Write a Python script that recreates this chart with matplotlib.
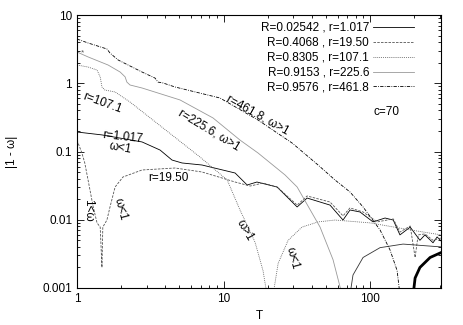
import matplotlib
matplotlib.use("Agg")
import matplotlib.pyplot as plt

plt.rcParams['font.family'] = ['Liberation Sans', 'DejaVu Sans']

# r=461.8 (R=0.9576)
t_461_hi = [1.0, 1.19, 1.60, 1.68, 1.91, 2.78, 3.41, 3.57, 3.86, 4.67, 9.46, 17.2, 29.4, 44.2, 57.7, 73.0, 89.6, 117, 137, 153, 160]
y_461_hi = [4.45, 3.89, 3.18, 2.77, 2.19, 1.46, 1.19, 1.04, 1.01, 0.881, 0.608, 0.289, 0.133, 0.0634, 0.0382, 0.0255, 0.0154, 0.0071, 0.0036, 0.0018, 0.0008]
t_461_lo = [197, 203, 219, 257, 305]
y_461_lo = [0.0008, 0.0014, 0.0020, 0.0028, 0.0033]

# r=225.6 (R=0.9153)
t_225_hi = [1.0, 1.19, 1.63, 1.97, 2.13, 2.19, 2.30, 2.78, 5.05, 8.48, 12.96, 17.2, 26.3, 31.8, 45.6, 55.9, 64.4]
y_225_hi = [2.87, 2.43, 1.85, 1.46, 1.24, 1.04, 0.943, 0.852, 0.569, 0.310, 0.147, 0.0951, 0.0453, 0.0302, 0.0078, 0.0026, 0.0008]
t_225_lo = [73.0, 76.5, 89.6, 117, 168, 305]
y_225_lo = [0.0008, 0.00155, 0.0028, 0.0039, 0.0044, 0.0040]

# r=107.1 (R=0.8305)
t_107_hi = [1.0, 1.19, 1.37, 1.44, 1.48, 1.55, 1.82, 2.30, 6.91, 10.6, 12.96, 16.4, 18.6, 19.8]
y_107_hi = [1.85, 1.73, 1.56, 1.24, 0.881, 0.796, 0.745, 0.531, 0.083, 0.0382, 0.0139, 0.0047, 0.0018, 0.0008]
t_107_lo = [21.8, 23.6, 27.6, 34.3, 44.2, 57.7, 100, 188, 305]
y_107_lo = [0.0008, 0.0023, 0.0050, 0.0078, 0.0093, 0.0099, 0.0090, 0.0071, 0.0060]

# r=19.50 (R=0.4068)
t_19 = [1.0, 1.08, 1.13, 1.19, 1.29, 1.37, 1.44, 1.48, 1.50, 1.60, 1.68, 1.82, 2.06, 2.78, 4.67, 7.13, 9.77, 12.0, 15.2, 18.6, 23.2,
        31.8, 37.2, 53.3, 65.4, 73.0, 89.6, 112, 144, 160, 188, 203, 213, 237, 269, 305]
y_19 = [0.147, 0.0951, 0.0679, 0.0382, 0.0154, 0.0090, 0.0078, 0.0020, 0.0078, 0.0099, 0.0154, 0.0302, 0.0423, 0.0536, 0.0573, 0.0501, 0.0409, 0.0357, 0.0312, 0.0345, 0.0302,
        0.0164, 0.0223, 0.0182, 0.0114, 0.0149, 0.0130, 0.0093, 0.0103, 0.0066, 0.0081, 0.0028, 0.0060, 0.0062, 0.0050, 0.0054]

# r=1.017 (R=0.02542)
t_1 = [1.0, 1.48, 2.78, 3.69, 4.45, 5.21, 7.13, 12.0, 14.5, 16.9, 23.2, 31.8, 37.2, 53.3, 65.4, 73.0, 85.4, 104.8, 126.6, 144,
       160, 188, 219, 237, 269, 287, 305]
y_1 = [0.193, 0.175, 0.138, 0.105, 0.075, 0.0679, 0.0634, 0.0484, 0.0323, 0.0357, 0.0302, 0.0154, 0.0208, 0.0164, 0.0099, 0.0139, 0.0130, 0.0093, 0.0106, 0.0099,
       0.0060, 0.0078, 0.0050, 0.0060, 0.0046, 0.0056, 0.0049]

legend_labels = ['R=0.02542 , r=1.017', 'R=0.4068 , r=19.50', 'R=0.8305 , r=107.1',
                 'R=0.9153 , r=225.6', 'R=0.9576 , r=461.8']

fig = plt.figure(figsize=(4.63, 3.25), dpi=100)
ax = fig.add_axes([77/463, 1-288/325, 364/463, 273/325])

lw = 0.6
l1, = ax.plot(t_1, y_1, color='black', lw=lw, ls='-')
l2, = ax.plot(t_19, y_19, color='#555555', lw=lw, ls=(0, (3, 1.5)))
l3, = ax.plot(t_107_hi, y_107_hi, color='#555555', lw=lw, ls=(0, (1, 1.3)))
ax.plot(t_107_lo, y_107_lo, color='#555555', lw=lw, ls=(0, (1, 1.3)))
l4, = ax.plot(t_225_hi, y_225_hi, color='#999999', lw=lw, ls='-')
ax.plot(t_225_lo, y_225_lo, color='#333333', lw=lw, ls='-')
l5, = ax.plot(t_461_hi, y_461_hi, color='black', lw=lw, ls=(0, (4, 1.5, 1, 1.5)))
ax.plot(t_461_lo, y_461_lo, color='black', lw=2.0, ls='-')

ax.set_xscale('log')
ax.set_yscale('log')
ax.set_xlim(1, 305)
ax.set_ylim(0.001, 10)
ax.set_xticks([1, 10, 100])
ax.set_xticklabels(['1', '10', '100'])
ax.set_yticks([0.001, 0.01, 0.1, 1, 10])
ax.set_yticklabels(['0.001', '0.01', '0.1', '1', '10'])
ax.tick_params(which='both', direction='in', top=True, right=True, labelsize=8.5, width=0.6)
ax.tick_params(which='major', length=5)
ax.tick_params(which='minor', length=2.5)
for s in ax.spines.values():
    s.set_linewidth(0.8)
ax.set_xlabel('T', fontsize=8.5)
ax.set_ylabel('|1 - ω|', fontsize=8.5)
ax.yaxis.set_label_coords(-0.162, 0.5)

ax.legend([l1, l2, l3, l4, l5], legend_labels, loc='upper right', markerfirst=False, frameon=False,
          fontsize=8.5, handlelength=3.5, handletextpad=0.3, labelspacing=0.25, borderpad=0,
          borderaxespad=0, bbox_to_anchor=(0.926, 0.975), alignment='right')
for txt in ax.get_legend().get_texts():
    txt.set_horizontalalignment('right')

ax.text(0.849, 0.645, 'c=70', fontsize=8.5, ha='center', va='center', transform=ax.transAxes)

fs = 8.5
ax.text(1.5, 0.51, 'r=107.1', fontsize=fs, rotation=-20, ha='center', va='center')
ax.text(7.96, 0.206, 'r=225.6, ω>1', fontsize=fs, rotation=-31, ha='center', va='center')
ax.text(17.2, 0.343, 'r=461.8, ω>1', fontsize=fs, rotation=-29, ha='center', va='center')
ax.text(2.06, 0.163, 'r=1.017', fontsize=fs, rotation=-6, ha='center', va='center')
ax.text(1.97, 0.112, 'ω<1', fontsize=fs, rotation=-10, ha='center', va='center')
ax.text(4.18, 0.041, 'r=19.50', fontsize=fs, ha='center', va='center')
ax.text(1.19, 0.0139, '1<ω', fontsize=fs, rotation=-90, ha='center', va='center')
ax.text(1.97, 0.0144, 'ω<1', fontsize=fs, rotation=-75, ha='center', va='center')
ax.text(14.0, 0.0071, 'ω>1', fontsize=fs, rotation=-60, ha='center', va='center')
ax.text(29.4, 0.00275, 'ω<1', fontsize=fs, rotation=-75, ha='center', va='center')
ax.text(1.09, 2.75, '*', fontsize=6, ha='center', va='center', color='#555555')

fig.savefig('out.png', dpi=100)
